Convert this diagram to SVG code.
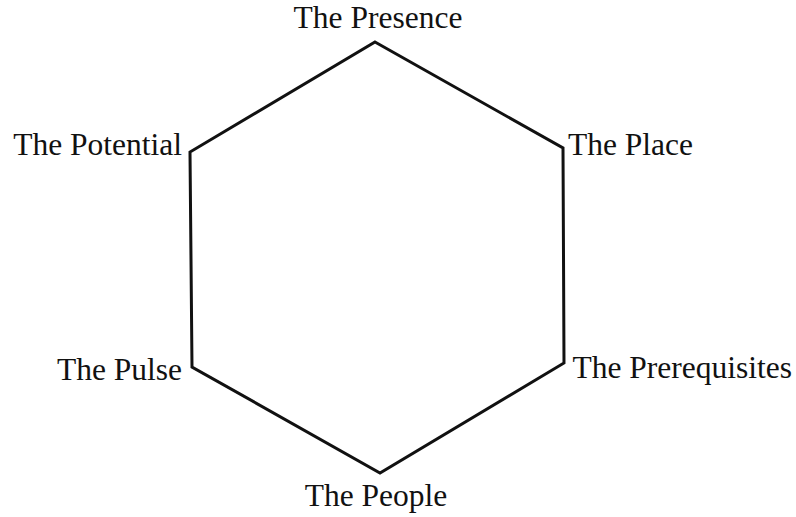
<svg xmlns="http://www.w3.org/2000/svg" width="796" height="517" viewBox="0 0 796 517">
<style>
.lbl{font-family:"Liberation Serif","Times New Roman",serif;font-size:31.5px;fill:#111}
.edge{fill:none;stroke:#111;stroke-width:3;stroke-linejoin:miter}
</style>
<rect width="796" height="517" fill="#fff"/>
<g id="connectors">
<polygon class="edge" points="375,42 563,148 564,363 380,473 192,367 190,152"/>
</g>
<g id="presence"><text class="lbl" x="378" y="28" text-anchor="middle">The Presence</text></g>
<g id="place"><text class="lbl" x="568" y="155">The Place</text></g>
<g id="prerequisites"><text class="lbl" x="792" y="378" text-anchor="end">The Prerequisites</text></g>
<g id="people"><text class="lbl" x="376" y="506" text-anchor="middle">The People</text></g>
<g id="pulse"><text class="lbl" x="182" y="380" text-anchor="end">The Pulse</text></g>
<g id="potential"><text class="lbl" x="182" y="155" text-anchor="end">The Potential</text></g>
</svg>
